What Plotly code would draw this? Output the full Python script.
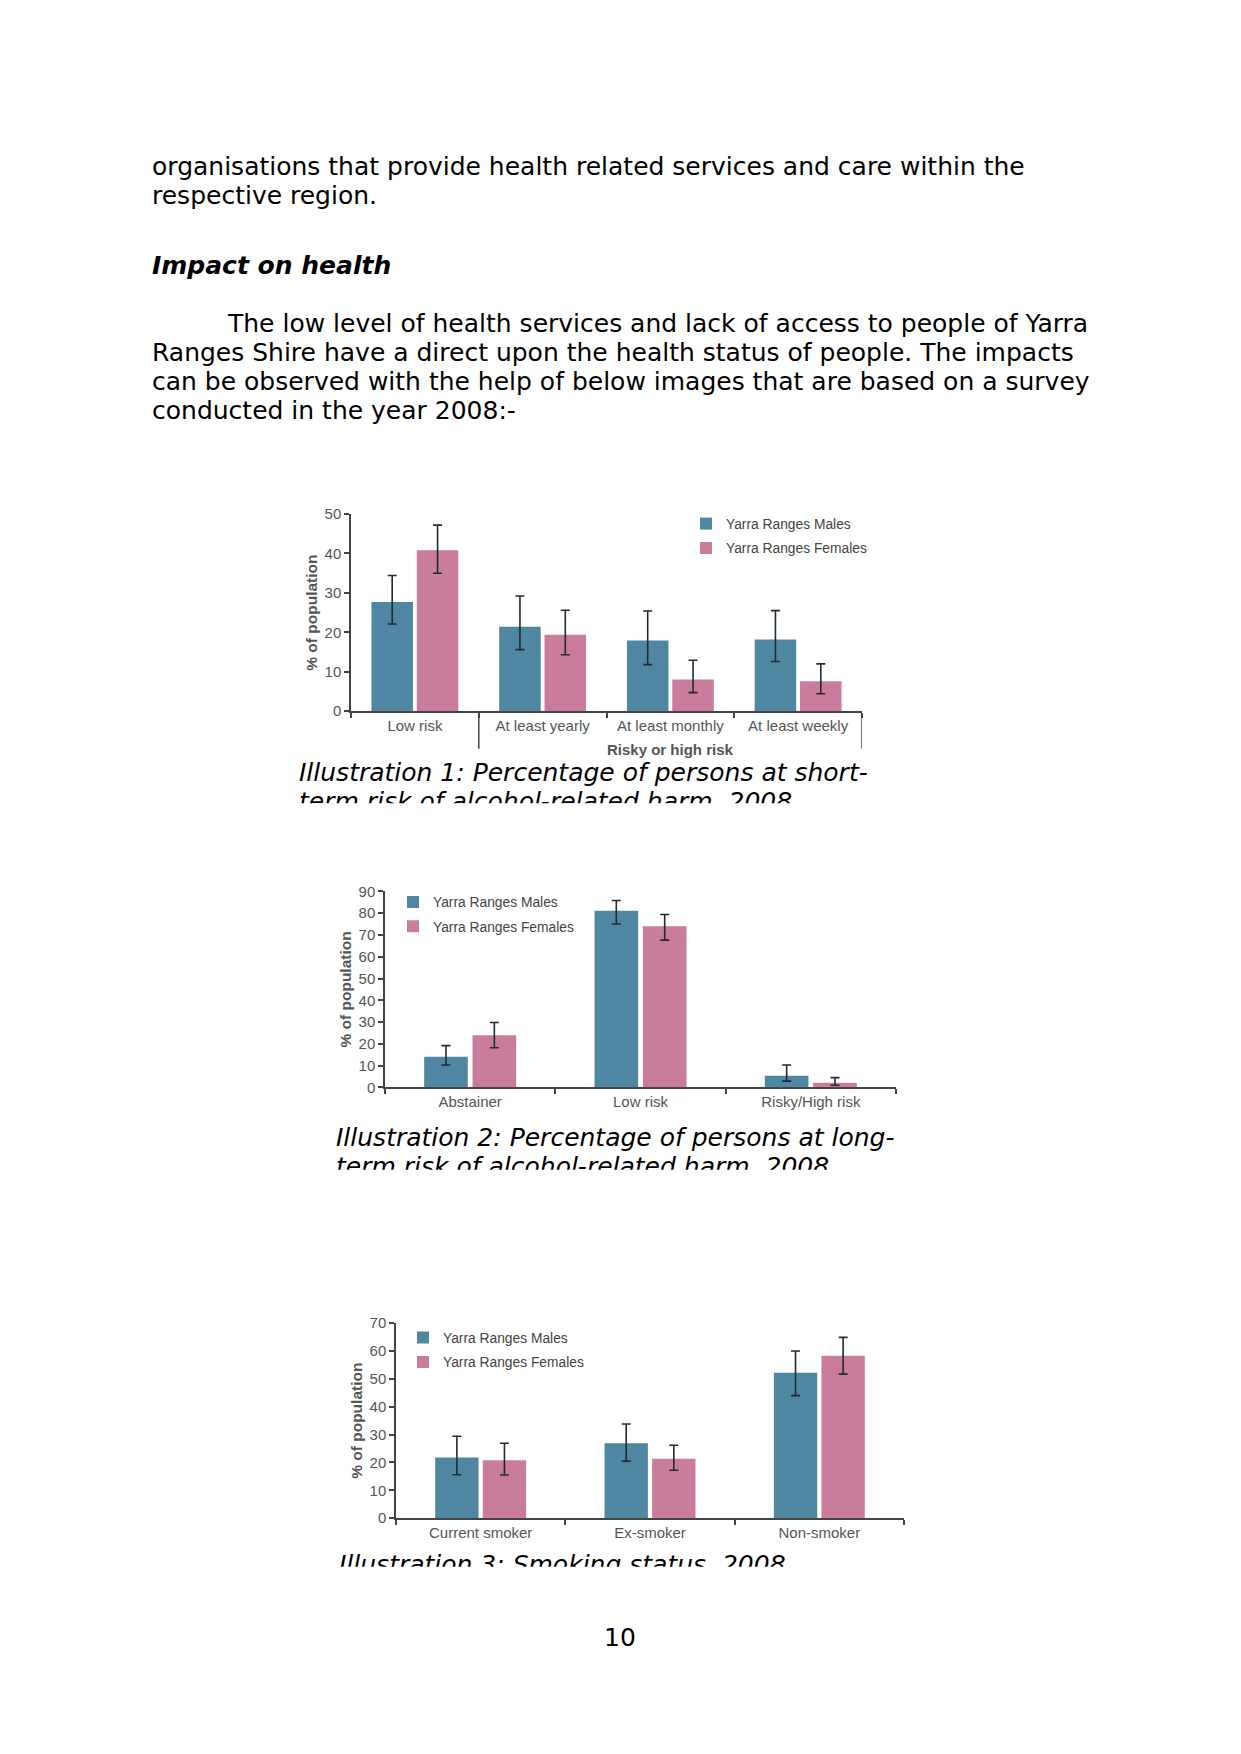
import plotly.graph_objects as go

W, H = 1241, 1754

# ---------------- data ----------------
series_names = ["Yarra Ranges Males", "Yarra Ranges Females"]

cat1 = ["Low risk", "At least yearly", "At least monthly", "At least weekly"]
males1 = [27.7, 21.4, 17.9, 18.2]
males1_lo = [22.1, 15.6, 11.8, 12.6]
males1_hi = [34.4, 29.2, 25.4, 25.5]
females1 = [40.8, 19.4, 8.0, 7.6]
females1_lo = [35.0, 14.3, 4.7, 4.4]
females1_hi = [47.2, 25.6, 12.9, 12.0]
group1_label = "Risky or high risk"

cat2 = ["Abstainer", "Low risk", "Risky/High risk"]
males2 = [14.1, 81.1, 5.4]
males2_lo = [10.3, 75.0, 2.9]
males2_hi = [19.2, 85.8, 10.3]
females2 = [23.9, 74.0, 2.1]
females2_lo = [18.2, 67.6, 1.0]
females2_hi = [29.8, 79.4, 4.5]

cat3 = ["Current smoker", "Ex-smoker", "Non-smoker"]
males3 = [21.8, 26.9, 52.2]
males3_lo = [15.6, 20.5, 44.0]
males3_hi = [29.4, 33.8, 60.0]
females3 = [20.8, 21.3, 58.3]
females3_lo = [15.5, 17.2, 51.7]
females3_hi = [26.9, 26.2, 64.9]

yticks1 = [0, 10, 20, 30, 40, 50]
yticks2 = [0, 10, 20, 30, 40, 50, 60, 70, 80, 90]
yticks3 = [0, 10, 20, 30, 40, 50, 60, 70]

captions = [
    ["Illustration 1: Percentage of persons at short-", "term risk of alcohol-related harm, 2008"],
    ["Illustration 2: Percentage of persons at long-", "term risk of alcohol-related harm, 2008"],
    ["Illustration 3: Smoking status, 2008", ""],
]

body_lines = [
    ("organisations that provide health related services and care within the", 150, 159.5),
    ("respective region.", 150, 188.8),
    ("<b><i>Impact on health</i></b>", 150, 259.5),
    ("The low level of health services and lack of access to people of Yarra", 225, 317.5),
    ("Ranges Shire have a direct upon the health status of people. The impacts", 150, 346.8),
    ("can be observed with the help of below images that are based on a survey", 150, 376.3),
    ("conducted in the year 2008:-", 150, 405.7),
]
page_number = "10"

# ---------------- style ----------------
BLUE = "#4f87a3"
PINK = "#c97c9c"
ERR = "#1f2b33"
AXIS = "#444444"
TXT = "#555555"
CHART_FONT = "Liberation Sans, Arial, sans-serif"
BODY_FONT = "DejaVu Sans, Verdana, sans-serif"


def X(px):
    return px / W


def Y(py):
    return 1 - py / H


fig = go.Figure()


def add_chart(idx, cats, m, mlo, mhi, f, flo, fhi, bw, gap, legend_name):
    xa = "x" if idx == 1 else f"x{idx}"
    ya = "y" if idx == 1 else f"y{idx}"
    for k, (name, vals, lo, hi, col, off) in enumerate([
        (series_names[0], m, mlo, mhi, BLUE, -bw - gap / 2),
        (series_names[1], f, flo, fhi, PINK, gap / 2),
    ]):
        fig.add_trace(go.Bar(
            x=cats, y=vals, name=name, marker=dict(color=col, line=dict(width=0)),
            width=bw, offset=off, xaxis=xa, yaxis=ya, legend=legend_name,
            legendgroup=f"c{idx}s{k}",
            error_y=dict(type="data", symmetric=False,
                         array=[h - v for h, v in zip(hi, vals)],
                         arrayminus=[v - l for v, l in zip(vals, lo)],
                         color=ERR, thickness=1.6, width=4.5),
        ))


add_chart(1, cat1, males1, males1_lo, males1_hi, females1, females1_lo, females1_hi, 0.325, 0.03, "legend")
add_chart(2, cat2, males2, males2_lo, males2_hi, females2, females2_lo, females2_hi, 0.256, 0.028, "legend2")
add_chart(3, cat3, males3, males3_lo, males3_hi, females3, females3_lo, females3_hi, 0.256, 0.025, "legend3")

# chart axes
charts = [
    (1, (351, 862), (709, 510), 50, yticks1, cat1),
    (2, (385, 896), (1089, 891), 90, yticks2, cat2),
    (3, (396, 904), (1524, 1327), 70, yticks3, cat3),
]
for idx, (x0, x1), (yb, yt), ymax, yt_vals, cats in charts:
    sx = "" if idx == 1 else str(idx)
    fig.layout["xaxis" + sx] = dict(
        domain=[X(x0), X(x1)], anchor="y" + sx, type="category",
        categoryorder="array", categoryarray=cats,
        range=[-0.5, len(cats) - 0.5], showline=True, linecolor=AXIS, linewidth=1.5,
        ticks="outside", tickson="boundaries", ticklen=5, tickwidth=1.5, tickcolor=AXIS,
        tickfont=dict(family=CHART_FONT, size=15, color=TXT),
        showgrid=False, zeroline=False, fixedrange=True,
    )
    fig.layout["yaxis" + sx] = dict(
        domain=[Y(yb), Y(yt)], anchor="x" + sx, range=[0, ymax],
        tickmode="array", tickvals=yt_vals, showline=True, linecolor=AXIS, linewidth=1.5,
        ticks="outside", ticklen=5, tickwidth=1.5, tickcolor=AXIS,
        tickfont=dict(family=CHART_FONT, size=15, color=TXT),
        title=dict(text="<b>% of population</b>", font=dict(family=CHART_FONT, size=15.5, color=TXT), standoff=3),
        showgrid=False, zeroline=False, fixedrange=True,
    )

# chart 1 group dividers and group label
for xv in [0.5, 3.5]:
    fig.add_shape(type="line", xref="x", yref="paper", x0=xv, x1=xv, y0=Y(709), y1=Y(747),
                  line=dict(color=AXIS, width=1.5))
fig.add_annotation(xref="x", yref="paper", x=2, y=Y(747.5), text="<b>" + group1_label + "</b>",
                   showarrow=False, xanchor="center", yanchor="middle",
                   font=dict(family=CHART_FONT, size=15, color=TXT))

# legends
leg_common = dict(xanchor="left", yanchor="top", bgcolor="rgba(0,0,0,0)",
                  font=dict(family=CHART_FONT, size=13.8, color="#444444"),
                  itemsizing="constant", tracegroupgap=3.5, orientation="v")
fig.update_layout(
    legend=dict(x=X(686), y=Y(504), **leg_common),
    legend2=dict(x=X(393), y=Y(886), **leg_common),
    legend3=dict(x=X(403), y=Y(1326), **leg_common),
)

# captions (clipped like the reference page)
cap_boxes = [
    (1, (290, 960), (745, 802), 299, 773),
    (2, (320, 960), (1110, 1172), 336, 1142),
    (3, (320, 960), (1545, 1573), 339, 1573),
]
for k, (ci, (cx0, cx1), (cyt, cyb), tx, ty) in enumerate(cap_boxes):
    n = 4 + k
    sx = str(n)
    fig.layout["xaxis" + sx] = dict(domain=[X(cx0), X(cx1)], anchor="y" + sx, range=[cx0, cx1],
                                    visible=False, fixedrange=True)
    fig.layout["yaxis" + sx] = dict(domain=[Y(cyb), Y(cyt)], anchor="x" + sx, range=[-cyb, -cyt],
                                    visible=False, fixedrange=True)
    lines = captions[ci - 1]
    fig.add_trace(go.Scatter(
        x=[tx, tx], y=[-ty, -(ty + 29.4)], text=["<i>" + lines[0] + "</i>", "<i>" + lines[1] + "</i>"],
        mode="text", textposition="middle right", cliponaxis=True, showlegend=False,
        hoverinfo="skip", textfont=dict(family=BODY_FONT, size=25, color="#000000"),
        xaxis="x" + sx, yaxis="y" + sx,
    ))

# body text
for text, bx, by in body_lines:
    fig.add_annotation(xref="paper", yref="paper", x=X(bx), y=Y(by), text=text, showarrow=False,
                       xanchor="left", yanchor="middle",
                       font=dict(family=BODY_FONT, size=25, color="#000000"))
fig.add_annotation(xref="paper", yref="paper", x=X(620), y=Y(1644), text=page_number, showarrow=False,
                   xanchor="center", yanchor="middle", font=dict(family=BODY_FONT, size=25, color="#000000"))

fig.update_layout(
    width=W, height=H, margin=dict(l=0, r=0, t=0, b=0),
    paper_bgcolor="white", plot_bgcolor="white", barmode="group",
    showlegend=True,
)

fig.write_html("out.html", config={"displayModeBar": False},
               post_script="document.body.style.margin='0';document.body.style.overflow='hidden';")
